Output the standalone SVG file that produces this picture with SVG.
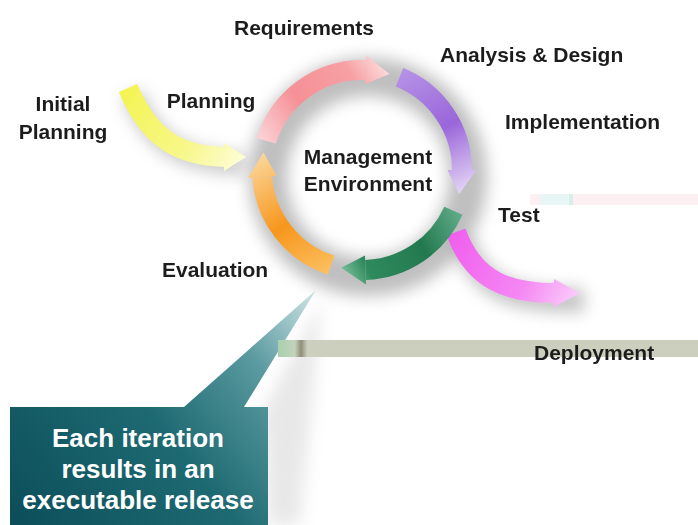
<svg xmlns="http://www.w3.org/2000/svg" width="698" height="525" viewBox="0 0 698 525">
<defs>
<style>
.lbl{font-family:"Liberation Sans",Arial,sans-serif;font-weight:bold;font-size:21px;fill:#1e1e1e;}
.cal{font-family:"Liberation Sans",Arial,sans-serif;font-weight:bold;font-size:26px;fill:#ffffff;text-anchor:middle;}
.body{fill:none;stroke-width:20;stroke-linecap:butt;}
.sh{fill:none;stroke:#8a8a8a;}
</style>
<filter id="blur8" filterUnits="userSpaceOnUse" x="0" y="0" width="698" height="525"><feGaussianBlur stdDeviation="8"/></filter>
<filter id="tblur" x="-10%" y="-30%" width="120%" height="160%"><feGaussianBlur stdDeviation="0.5"/></filter>
<linearGradient id="gPink" gradientUnits="userSpaceOnUse" x1="266" y1="145" x2="390" y2="68"><stop offset="0" stop-color="#fbd0d3"/><stop offset="0.35" stop-color="#f59096"/><stop offset="0.75" stop-color="#f7a0a4"/><stop offset="1" stop-color="#fde0e0"/></linearGradient>
<linearGradient id="gPurple" gradientUnits="userSpaceOnUse" x1="400" y1="72" x2="462" y2="196"><stop offset="0" stop-color="#b592e6"/><stop offset="0.5" stop-color="#9a66da"/><stop offset="1" stop-color="#e6daf6"/></linearGradient>
<linearGradient id="gGreen" gradientUnits="userSpaceOnUse" x1="468" y1="205" x2="336" y2="272"><stop offset="0" stop-color="#6db796"/><stop offset="0.4" stop-color="#23794f"/><stop offset="0.8" stop-color="#2f8a5e"/><stop offset="1" stop-color="#8ccaa8"/></linearGradient>
<linearGradient id="gOrange" gradientUnits="userSpaceOnUse" x1="330" y1="272" x2="262" y2="150"><stop offset="0" stop-color="#fcc060"/><stop offset="0.45" stop-color="#f7961c"/><stop offset="1" stop-color="#fcd9a0"/></linearGradient>
<linearGradient id="gYellow" gradientUnits="userSpaceOnUse" x1="122" y1="84" x2="246" y2="158"><stop offset="0" stop-color="#f4f450"/><stop offset="0.6" stop-color="#f7f78a"/><stop offset="1" stop-color="#fdfdd6"/></linearGradient>
<linearGradient id="gMagenta" gradientUnits="userSpaceOnUse" x1="455" y1="232" x2="582" y2="294"><stop offset="0" stop-color="#f060ee"/><stop offset="0.6" stop-color="#f587f4"/><stop offset="1" stop-color="#fad0fa"/></linearGradient>
<linearGradient id="gCall" gradientUnits="userSpaceOnUse" x1="20" y1="525" x2="320" y2="290"><stop offset="0" stop-color="#0c4f5a"/><stop offset="0.45" stop-color="#1e6a72"/><stop offset="0.75" stop-color="#5a9aa0"/><stop offset="1" stop-color="#d4e8e8"/></linearGradient>
<linearGradient id="gBand" x1="0" y1="0" x2="1" y2="0"><stop offset="0" stop-color="#a8d0b0"/><stop offset="0.04" stop-color="#c4d2bc"/><stop offset="0.055" stop-color="#8e8e78"/><stop offset="0.07" stop-color="#cdcfbe"/><stop offset="1" stop-color="#cdcfbe"/></linearGradient>
</defs>
<rect width="698" height="525" fill="#ffffff"/>

<g id="shadows">
<circle cx="368" cy="177" r="100" class="sh" stroke-width="38" opacity="0.55" filter="url(#blur8)"/>
<path d="M 132 94 C 154 146 184 162 244 164" class="sh" stroke-width="22" opacity="0.45" filter="url(#blur8)"/>
<path d="M 462 240 C 480 290 515 302 584 300" class="sh" stroke-width="24" opacity="0.5" filter="url(#blur8)"/>
<path d="M 262 412 L 322 300 L 300 525 L 268 525 Z" fill="#999" opacity="0.22" filter="url(#blur8)"/>
</g>

<g id="artifacts">
<rect x="530" y="194" width="168" height="11" fill="#fdf0f2"/>
<rect x="540" y="194" width="30" height="11" fill="#e8f6f6"/>
<rect x="569" y="194" width="4" height="11" fill="#d8eeea"/>
</g>

<g id="connectors">
<g id="arrow-planning-in">
<path d="M 128 88 C 150 140 180 156 226 157" class="body" stroke="url(#gYellow)"/>
<polygon points="224,143 246,157 224,171" fill="url(#gYellow)"/>
</g>
<g id="arrow-deploy">
<path d="M 456 232 C 474 282 510 293 556 293" class="body" stroke="url(#gMagenta)"/>
<polygon points="554,279 580,293 554,307" fill="url(#gMagenta)"/>
</g>
<g id="arrow-requirements">
<path d="M 266.4 140.8 A 100 100 0 0 1 365.5 70.1" class="body" stroke="url(#gPink)"/>
<polygon points="365,84.1 366.2,55.6 389.6,73.9" fill="url(#gPink)"/>
</g>
<g id="arrow-analysis">
<path d="M 399.5 77.3 A 100 100 0 0 1 462 170" class="body" stroke="url(#gPurple)"/>
<polygon points="447.5,170 476.5,170 459,194.2" fill="url(#gPurple)"/>
</g>
<g id="arrow-test">
<path d="M 453.4 210.7 A 100 100 0 0 1 365.5 269.9" class="body" stroke="url(#gGreen)"/>
<polygon points="365,255.5 366,284.4 341.2,267.8" fill="url(#gGreen)"/>
</g>
<g id="arrow-evaluation">
<path d="M 331.1 265.1 A 100 100 0 0 1 262.2 177" class="body" stroke="url(#gOrange)"/>
<polygon points="276.6,176 247.8,178 263.5,152.6" fill="url(#gOrange)"/>
</g>
</g>

<g id="callout">
<path d="M 10 407 L 184 407 L 316 290 L 244 407 L 268 407 L 268 525 L 10 525 Z" fill="url(#gCall)"/>
<text class="cal" x="138" y="447">Each iteration</text>
<text class="cal" x="138" y="478">results in an</text>
<text class="cal" x="138" y="509">executable release</text>
</g>

<g id="band">
<rect x="278" y="340" width="420" height="17" fill="url(#gBand)"/>
</g>

<g id="labels" filter="url(#tblur)">
<g id="n-requirements"><text class="lbl" x="304" y="35" text-anchor="middle">Requirements</text></g>
<g id="n-analysis"><text class="lbl" x="440" y="62">Analysis &amp; Design</text></g>
<g id="n-implementation"><text class="lbl" x="505" y="129">Implementation</text></g>
<g id="n-initial"><text class="lbl" x="63" y="111" text-anchor="middle">Initial</text><text class="lbl" x="63" y="139" text-anchor="middle">Planning</text></g>
<g id="n-planning"><text class="lbl" x="211" y="108" text-anchor="middle">Planning</text></g>
<g id="n-management"><text class="lbl" x="368" y="164" text-anchor="middle">Management</text><text class="lbl" x="368" y="191" text-anchor="middle">Environment</text></g>
<g id="n-test"><text class="lbl" x="498" y="222">Test</text></g>
<g id="n-evaluation"><text class="lbl" x="162" y="277">Evaluation</text></g>
<g id="n-deployment"><text class="lbl" x="534" y="360">Deployment</text></g>
</g>
</svg>
